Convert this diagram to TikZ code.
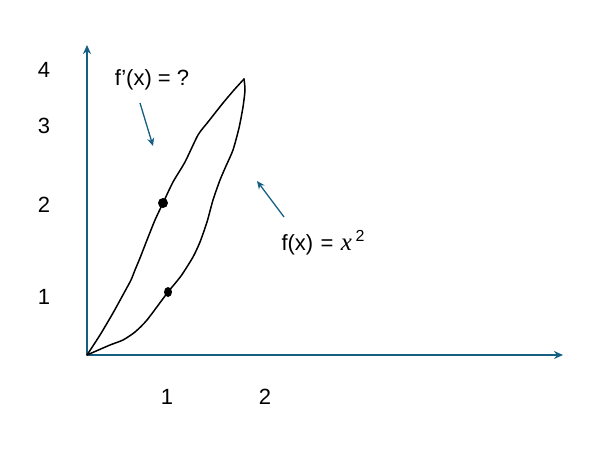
\documentclass[tikz,border=0pt]{standalone}
\usepackage{fontspec}
\setmainfont{Liberation Sans}
\newfontfamily\mathlike{Liberation Serif}
\usepackage{xcolor}
\usetikzlibrary{arrows.meta, positioning, calc}
\definecolor{axisblue}{HTML}{156082}

\begin{document}
\begin{tikzpicture}[x=1pt, y=-1pt, font=\fontsize{22}{26}\selectfont,
    axis/.style={axisblue, line width=1.6pt, -{Stealth[length=9pt, width=8pt]}},
    pointer/.style={axisblue, line width=1.3pt, -{Stealth[length=8pt, width=7pt]}},
    sketch/.style={black, line width=1.5pt, line join=round, line cap=round}]
    \useasboundingbox (0,0) rectangle (612,453);

    % Axes
    \coordinate (o) at (87,355);
    \coordinate (ytop) at (87,45);
    \coordinate (xend) at (563,355);
    \draw[axis] (o) -- (ytop);
    \draw[axis] (o) -- (xend);

    % Tick labels
    \node (y4) at (44,70) {4};
    \node (y3) at (44,126) {3};
    \node (y2) at (44,205) {2};
    \node (y1) at (44,297) {1};
    \node (x1) at (167,397) {1};
    \node (x2) at (265,397) {2};

    % Curves
    \coordinate (tip) at (244,79);
    \draw[sketch] plot[smooth, tension=0.4] coordinates {(o) (100,335) (113,313) (124,293)
        (131,280) (135,270) (140,258) (147,240) (155,220) (163,203) (173,182) (185,162)
        (198,135) (208,122) (223,103) (234,90) (tip)};
    \draw[sketch] plot[smooth, tension=0.4] coordinates {(tip) (245,90) (243,107) (239,128)
        (233,150) (226,166) (220,180) (213,200) (207,222) (200,242) (193,257) (181,276)
        (168,292) (147,320) (135,332) (123,340) (110,345) (o)};

    % Points
    \fill (163,203) circle (5pt);
    \fill (168,292) ellipse (4pt and 5pt);

    % Labels
    \node (fprime) at (152,80) {f’(x) = ?};
    \node (fx) at (323,243) {f(x)\,\,=\,\,{\fontsize{25}{27}\mathlike\itshape x}\,\raisebox{9pt}{\fontsize{16}{18}\selectfont 2}};
    \coordinate (p1) at (140,103);
    \coordinate (p2) at (153,146);
    \coordinate (q1) at (284,217);
    \coordinate (q2) at (257,181);
    \draw[pointer] (p1) -- (p2);
    \draw[pointer] (q1) -- (q2);
\end{tikzpicture}
\end{document}
